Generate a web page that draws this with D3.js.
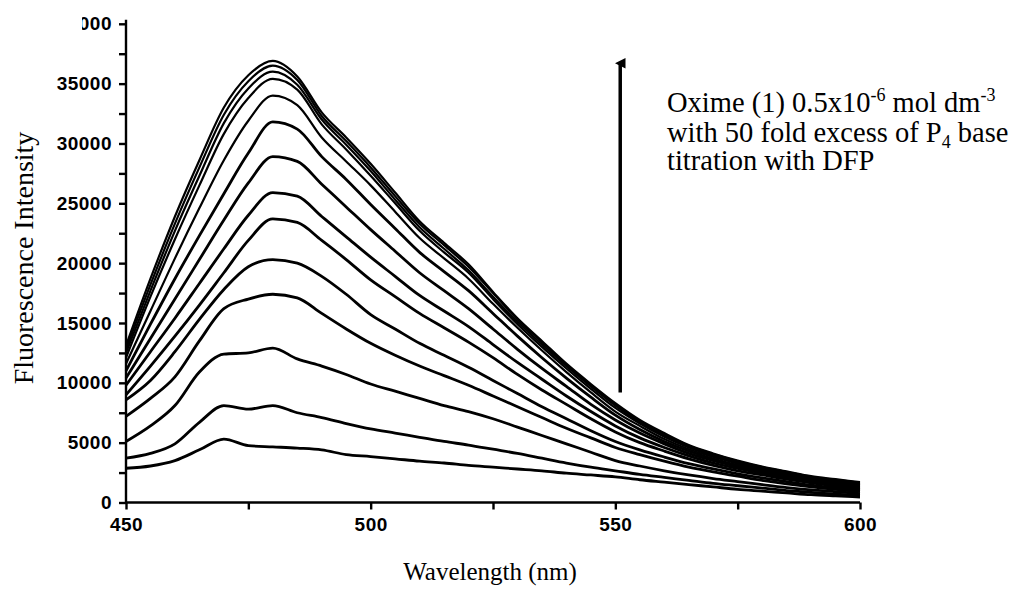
<!DOCTYPE html>
<html>
<head>
<meta charset="utf-8">
<script src="https://cdn.jsdelivr.net/npm/d3@7"></script>
<style>
  body { margin: 0; background: #fff; }
  svg { display: block; }
  .tick text { font-family: "Liberation Sans", Arial, sans-serif; font-weight: bold; font-size: 19px; letter-spacing: 0.5px; fill: #000; }
  .title { font-family: "Liberation Serif", "Times New Roman", serif; fill: #000; }
</style>
</head>
<body>
<svg id="chart"></svg>
<script>
// wavelength (nm), one reading every 5 nm
const wavelengths = d3.range(450, 601, 5)

// fluorescence intensity, lowest trace first (increasing DFP)
const trace01 = [2860, 3050, 3500, 4400, 5300, 4750, 4650, 4550, 4400, 4000, 3840, 3650, 3450, 3300, 3100, 2950, 2800, 2650, 2450, 2300, 2140, 1900, 1700, 1500, 1300, 1100, 950, 800, 650, 550, 460]
const trace02 = [3700, 4100, 4900, 6700, 8100, 7800, 8100, 7500, 7100, 6600, 6150, 5800, 5450, 5100, 4800, 4450, 4100, 3700, 3300, 2950, 2650, 2350, 2100, 1850, 1600, 1400, 1200, 1000, 850, 700, 600]
const trace03 = [5100, 6400, 8100, 10900, 12400, 12500, 12900, 12000, 11400, 10700, 9900, 9300, 8700, 8100, 7600, 7000, 6300, 5600, 4900, 4200, 3500, 3050, 2650, 2300, 2000, 1750, 1500, 1250, 1050, 900, 750]
const trace04 = [7200, 8700, 10500, 13500, 16200, 17000, 17400, 17100, 15800, 14500, 13300, 12300, 11400, 10600, 9800, 8900, 8000, 7100, 6200, 5400, 4600, 4000, 3450, 2950, 2550, 2200, 1850, 1550, 1300, 1100, 900]
const trace05 = [8580, 10200, 12600, 15300, 17800, 19700, 20300, 20000, 18900, 17400, 15700, 14500, 13300, 12300, 11300, 10200, 9100, 8000, 7000, 6000, 5100, 4400, 3800, 3250, 2800, 2400, 2050, 1750, 1450, 1200, 1000]
const trace06 = [9000, 11400, 13900, 16500, 19200, 21900, 23700, 23400, 21900, 20300, 18600, 17200, 15800, 14600, 13400, 12100, 10700, 9400, 8200, 7000, 5900, 5000, 4300, 3650, 3100, 2650, 2300, 1950, 1650, 1350, 1100]
const trace07 = [9800, 12600, 15400, 18300, 21200, 24000, 25900, 25600, 23900, 22200, 20500, 18900, 17300, 16000, 14700, 13200, 11700, 10300, 8900, 7600, 6400, 5400, 4600, 3900, 3300, 2850, 2450, 2100, 1750, 1450, 1200]
const trace08 = [10400, 13700, 17000, 20300, 23600, 26700, 28900, 28500, 26600, 24700, 22800, 21000, 19200, 17700, 16200, 14500, 12800, 11200, 9700, 8200, 6900, 5800, 4900, 4100, 3500, 3000, 2550, 2200, 1850, 1550, 1300]
const trace09 = [11000, 14900, 18700, 22300, 25800, 29200, 31800, 31200, 28900, 27000, 24900, 22900, 20900, 19300, 17700, 15800, 13900, 12100, 10400, 8800, 7300, 6100, 5100, 4300, 3650, 3100, 2650, 2250, 1900, 1650, 1400]
const trace10 = [11600, 16000, 20400, 24600, 28600, 31900, 34000, 33200, 30500, 28500, 26500, 24300, 22100, 20400, 18700, 16600, 14600, 12700, 10900, 9200, 7600, 6400, 5300, 4450, 3800, 3250, 2750, 2350, 2000, 1750, 1500]
const trace11 = [12100, 17200, 22000, 26500, 30800, 33800, 35400, 34500, 31600, 29500, 27300, 25000, 22700, 20900, 19200, 17000, 14900, 13000, 11200, 9500, 7900, 6600, 5500, 4600, 3900, 3350, 2850, 2450, 2050, 1800, 1550]
const trace12 = [12500, 17700, 22700, 27300, 31700, 34600, 36000, 34900, 32000, 29900, 27700, 25300, 23000, 21200, 19400, 17200, 15100, 13200, 11400, 9700, 8100, 6700, 5600, 4700, 4000, 3400, 2900, 2500, 2100, 1850, 1600]
const trace13 = [12800, 18200, 23300, 28000, 32400, 35200, 36500, 35300, 32300, 30200, 28000, 25600, 23300, 21500, 19700, 17500, 15300, 13400, 11500, 9800, 8200, 6800, 5700, 4750, 4050, 3450, 2950, 2550, 2150, 1900, 1650]
const trace14 = [13100, 18700, 23900, 28600, 33000, 35700, 36900, 35600, 32600, 30500, 28300, 25900, 23500, 21700, 19900, 17600, 15400, 13500, 11600, 9900, 8300, 6900, 5800, 4800, 4100, 3500, 3000, 2600, 2200, 1950, 1700]

const traces = [trace01, trace02, trace03, trace04, trace05, trace06, trace07, trace08, trace09, trace10, trace11, trace12, trace13, trace14]

const xTicks = [450, 475, 500, 525, 550, 575, 600]
const yTicks = d3.range(0, 40001, 2500)

// where the titration arrow sits (wavelength, from / to intensity)
const arrowAt = [551, 9200, 36700]

const width = 1014
const height = 594

const svg = d3.select("#chart").attr("width", width).attr("height", height)
const defs = svg.append("defs")

const scaleX = d3.scaleLinear().domain([450, 600]).range([126, 860])
const scaleY = d3.scaleLinear().domain([0, 40000]).range([502.5, 23.8])

// curves
const line = d3.line()
    .x((d, i) => scaleX(wavelengths[i]))
    .y(d => scaleY(d))
    .curve(d3.curveMonotoneX)

svg.append("g").attr("id", "lines")
    .selectAll("path")
    .data(traces)
    .join("path")
    .attr("d", d => line(d))
    .attr("fill", "none")
    .attr("stroke", "#000")
    .attr("stroke-width", (d, i) => i < 9 ? 2.8 : 2.2)
    .attr("stroke-linejoin", "round")

// axes
// the top label is cut by the edge of the original figure
defs.append("clipPath").attr("id", "clip-top")
    .append("rect").attr("x", -44).attr("y", -30).attr("width", 60).attr("height", 60)

const xAxis = d3.axisBottom(scaleX)
    .tickValues(xTicks)
    .tickSize(7)
    .tickPadding(8)
    .tickFormat(d => d % 50 === 0 ? d : "")

const yAxis = d3.axisLeft(scaleY)
    .tickValues(yTicks)
    .tickSize(7)
    .tickPadding(7)
    .tickFormat(d => d % 5000 === 0 ? d : "")

const gx = svg.append("g").attr("id", "x-axis")
    .attr("transform", `translate(0, ${scaleY(0)})`)
    .call(xAxis)
const gy = svg.append("g").attr("id", "y-axis")
    .attr("transform", `translate(${scaleX(450)}, 0)`)
    .call(yAxis)

for (let g of [gx, gy]) {
    g.select(".domain").attr("stroke-width", 2.4).attr("stroke", "#000")
    g.selectAll(".tick line").attr("stroke-width", 2.4).attr("stroke", "#000")
}
gy.select(".domain").attr("d", `M0,${scaleY(40000) - 4}V${scaleY(0)}`)
gx.select(".domain").attr("d", `M${scaleX(450)},0H${scaleX(600)}`)
gy.selectAll(".tick").filter(d => d === 40000).select("text").attr("clip-path", "url(#clip-top)")

// axis titles
svg.append("text").attr("class", "title")
    .attr("x", 490).attr("y", 580)
    .attr("text-anchor", "middle")
    .attr("font-size", 25)
    .text("Wavelength (nm)")

svg.append("text").attr("class", "title")
    .attr("transform", "translate(33, 258) rotate(-90)")
    .attr("text-anchor", "middle")
    .attr("font-size", 28)
    .text("Fluorescence Intensity")

// arrow + note
const marker = defs.append("marker")
    .attr("id", "head")
    .attr("viewBox", "0 0 10 10")
    .attr("refX", 5).attr("refY", 5)
    .attr("markerWidth", 3).attr("markerHeight", 4)
    .attr("orient", "auto")
marker.append("path").attr("d", "M0,10L5,0L10,10Z").attr("fill", "#000")

svg.append("line")
    .attr("x1", scaleX(arrowAt[0])).attr("x2", scaleX(arrowAt[0]))
    .attr("y1", scaleY(arrowAt[1])).attr("y2", scaleY(arrowAt[2]))
    .attr("stroke", "#000").attr("stroke-width", 3.5)
    .attr("marker-end", "url(#head)")

const note = svg.append("text").attr("class", "title").attr("font-size", 28.5)
let t1 = note.append("tspan").attr("x", 667).attr("y", 112)
t1.append("tspan").text("Oxime (1) 0.5x10")
t1.append("tspan").attr("font-size", 18).attr("dy", -11).text("-6")
t1.append("tspan").attr("dy", 11).text(" mol dm")
t1.append("tspan").attr("font-size", 18).attr("dy", -11).text("-3")
let t2 = note.append("tspan").attr("x", 667).attr("y", 142)
t2.append("tspan").text("with 50 fold excess of P")
t2.append("tspan").attr("font-size", 18).attr("dy", 6).text("4")
t2.append("tspan").attr("dy", -6).text(" base")
note.append("tspan").attr("x", 667).attr("y", 170).text("titration with DFP")
</script>
</body>
</html>
